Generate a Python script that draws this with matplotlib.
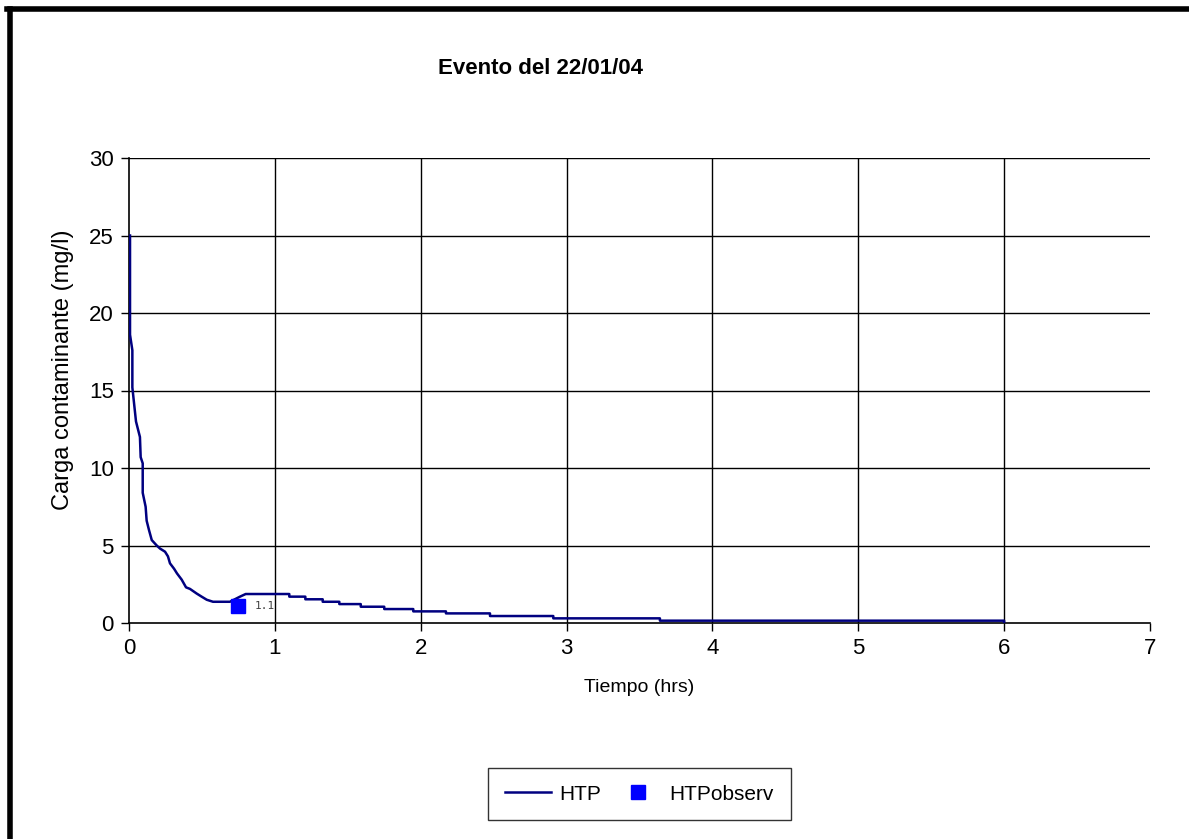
import numpy as np
import matplotlib
matplotlib.use("Agg")
import matplotlib.pyplot as plt
from matplotlib import font_manager
from matplotlib.lines import Line2D

# --- fonts ---
plainFont = "Liberation Sans"
narrowFont = plainFont
for name in ["Liberation Sans Narrow", "Arial Narrow"]:
    try:
        font_manager.findfont(name, fallback_to_default=False)
        narrowFont = name
        break
    except ValueError:
        pass

plt.rcParams["font.family"] = plainFont

# --- data: simulated HTP load (mg/l) over time (hrs) ---
tiempo = [0.007, 0.007, 0.023, 0.023, 0.048, 0.075, 0.080, 0.094, 0.094,
          0.114, 0.121, 0.137, 0.156, 0.190, 0.213, 0.247, 0.267, 0.281,
          0.309, 0.329, 0.361, 0.391, 0.418, 0.464, 0.498, 0.533, 0.576,
          0.692, 0.761, 0.800, 1.099, 1.099, 1.209, 1.209, 1.328, 1.328,
          1.442, 1.442, 1.589, 1.589, 1.750, 1.750, 1.949, 1.949, 2.173,
          2.173, 2.475, 2.475, 2.909, 2.909, 3.640, 3.640, 6.000, 6.000]
carga = [25.0, 18.6, 17.6, 15.2, 13.0, 12.0, 10.7, 10.3, 8.4,
         7.5, 6.6, 6.0, 5.35, 5.0, 4.8, 4.6, 4.3, 3.85,
         3.5, 3.2, 2.8, 2.3, 2.2, 1.9, 1.7, 1.5, 1.37,
         1.37, 1.7, 1.87, 1.87, 1.7, 1.7, 1.53, 1.53, 1.37,
         1.37, 1.22, 1.22, 1.05, 1.05, 0.9, 0.9, 0.75, 0.75,
         0.62, 0.62, 0.45, 0.45, 0.3, 0.3, 0.15, 0.15, 0.0]

# observed sample
tiempoObs = [0.75]
cargaObs = [1.1]

xTicks = list(range(0, 8))
yTicks = list(range(0, 31, 5))

lineColor = "#000080"
markerColor = "#0000FF"

figure = plt.figure(figsize=(11.89, 8.39), dpi=100)
axes = figure.add_axes([129 / 1189, 1 - 623 / 839, (1150 - 129) / 1189, (623 - 158) / 839])

# grid drawn by hand: no vertical line at the last x tick
for x in xTicks[1:-1]:
    axes.axvline(x, color="black", linewidth=1.0, zorder=1)
for y in yTicks[1:]:
    axes.axhline(y, color="black", linewidth=1.0, zorder=1)

axes.plot(tiempo, carga, color=lineColor, linewidth=1.8, label="HTP", zorder=3)
axes.plot(tiempoObs, cargaObs, linestyle="none", marker="s", markersize=10,
          color=markerColor, label="HTPobserv", zorder=4)
for t, v in zip(tiempoObs, cargaObs):
    axes.annotate(f"{v:.1f}", (t, v), xytext=(12, 0), textcoords="offset points",
                  fontsize=8, color="#404040", family="DejaVu Sans Mono", va="center")

axes.set_xlim(0, 7)
axes.set_ylim(0, 30)
axes.set_xticks(xTicks)
axes.set_yticks(yTicks)
axes.tick_params(direction="out", length=6, width=1, labelsize=16, pad=5, color="black")

for side in ["top", "right"]:
    axes.spines[side].set_visible(False)
for side in ["left", "bottom"]:
    axes.spines[side].set_linewidth(1.2)

axes.set_xlabel("Tiempo (hrs)", fontsize=14, family=narrowFont, labelpad=14)
figure.text(63 / 1189, 1 - 370 / 839, "Carga contaminante (mg/l)", rotation=90,
            fontsize=17, ha="center", va="center")

figure.text(541 / 1189, 1 - 68 / 839, "Evento del 22/01/04", fontsize=16,
            fontweight="bold", family=narrowFont, ha="center", va="center")

legend = axes.legend(loc="center", bbox_to_anchor=(639.5 / 1189, 1 - 794 / 839),
                     bbox_transform=figure.transFigure, ncol=2, frameon=True,
                     fancybox=False, edgecolor="black",
                     prop={"family": narrowFont, "size": 15}, handlelength=2.2,
                     handletextpad=0.4, columnspacing=0.7, borderpad=0.8,
                     borderaxespad=0.0, markerscale=1.0)
legend.get_frame().set_linewidth(1.0)

# outer frame, only left and top edges
figure.add_artist(Line2D([9.5 / 1189, 9.5 / 1189], [0, 1 - 8.5 / 839],
                         transform=figure.transFigure, color="black", linewidth=4))
figure.add_artist(Line2D([7 / 1189, 1], [1 - 8.5 / 839, 1 - 8.5 / 839],
                         transform=figure.transFigure, color="black", linewidth=4))

figure.savefig("out.png", dpi=100)
